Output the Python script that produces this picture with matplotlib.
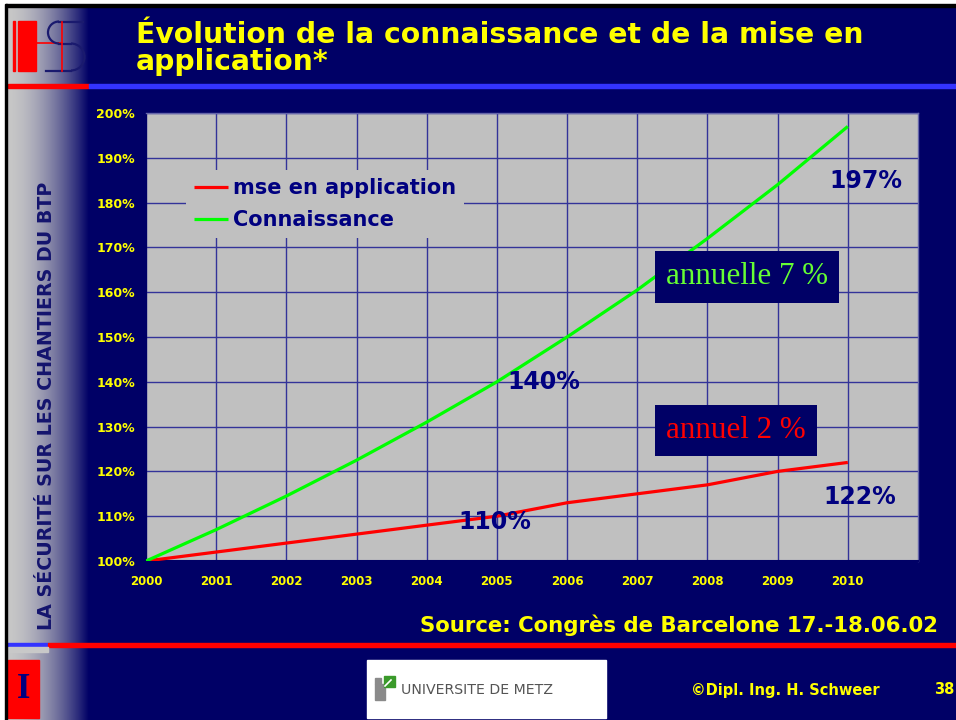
import numpy as np
import matplotlib
matplotlib.use("Agg")
import matplotlib.pyplot as plt
from matplotlib.patches import Rectangle, Arc

# ---- data ----
years = [2000, 2001, 2002, 2003, 2004, 2005, 2006, 2007, 2008, 2009, 2010]
connaissance = [100, 107, 114.5, 122.5, 131, 140, 150, 160.5, 172, 184, 197]
application = [100, 102, 104, 106, 108, 110, 113, 115, 117, 120, 122]
y_ticks = [100, 110, 120, 130, 140, 150, 160, 170, 180, 190, 200]
series_labels = ["mse en application", "Connaissance"]
title_lines = ["Évolution de la connaissance et de la mise en", "application*"]
side_title = "LA SÉCURITÉ SUR LES CHANTIERS DU BTP"
source_text = "Source: Congrès de Barcelone 17.-18.06.02"
footer_text = "©Dipl. Ing. H. Schweer"
page_number = "38"

NAVY = "#000066"
YELLOW = "#FFFF00"
DARK_TEXT = "#000080"
PLOT_GRAY = "#C0C0C0"

plt.rcParams["font.family"] = ["DejaVu Sans"]

W, H = 956, 720
fig = plt.figure(figsize=(W / 100, H / 100), dpi=100)

# ---- slide background (pixel coordinates, y downward) ----
bg = fig.add_axes([0, 0, 1, 1])
bg.set_xlim(0, W)
bg.set_ylim(H, 0)
bg.axis("off")
bg.add_patch(Rectangle((0, 0), W, H, color=NAVY, zorder=0))

# left gradient strip
t = np.linspace(0, 1, 200)
f = t ** 1.7
gray = np.array([0.78, 0.78, 0.78])
navy = np.array([0.0, 0.0, 0.4])
grad = (gray[None, :] * (1 - f[:, None]) + navy[None, :] * f[:, None])[None, :, :]
bg.imshow(grad, extent=(8, 89, H, 0), aspect="auto", zorder=1)

# outer frame
bg.add_patch(Rectangle((0, 0), W, 4, color="white", zorder=5))
bg.add_patch(Rectangle((0, 4), W, 2.5, color="black", zorder=5))
bg.add_patch(Rectangle((0, 0), 5, H, color="white", zorder=5))
bg.add_patch(Rectangle((5, 4), 2.5, H, color="black", zorder=5))

# rule under the title
bg.add_patch(Rectangle((8, 83.5), 81, 4, color="#FF0000", zorder=3))
bg.add_patch(Rectangle((89, 83.5), W - 89, 4, color="#3333FF", zorder=3))

# rule above the footer
bg.add_patch(Rectangle((5, 643), 43, 4, color="#3333FF", zorder=3))
bg.add_patch(Rectangle((48, 643), W - 48, 4, color="#FF0000", zorder=3))
bg.add_patch(Rectangle((8, 647), 40, 5, color="#C8C8C8", zorder=3))

# HS logo
bg.add_patch(Rectangle((13, 21), 2.5, 50, color="#FF0000", zorder=3))
bg.add_patch(Rectangle((18, 21), 18, 50, color="#FF0000", zorder=3))
bg.plot([36, 62], [43, 43], color="#FF0000", lw=1.2, zorder=3)
bg.plot([62, 62], [22, 71], color="#FF0000", lw=1.2, zorder=4)
s_col = "#1A1A6E"
bg.plot([59, 83], [21.5, 21.5], color=s_col, lw=1.6, zorder=3)
bg.add_patch(Arc((59, 32.5), 22, 22, theta1=90, theta2=270, color=s_col, lw=1.6, zorder=3))
bg.plot([59, 71], [43.5, 43.5], color=s_col, lw=1.6, zorder=3)
bg.add_patch(Arc((71, 57), 27, 27, theta1=-90, theta2=90, color=s_col, lw=1.6, zorder=3))
bg.plot([46, 71], [70.5, 70.5], color=s_col, lw=1.6, zorder=3)

# title
bg.text(136, 43, title_lines[0], color=YELLOW, fontsize=20.3, fontweight="bold",
        ha="left", va="baseline", zorder=6)
bg.text(136, 70, title_lines[1], color=YELLOW, fontsize=20.3, fontweight="bold",
        ha="left", va="baseline", zorder=6)

# vertical side title
bg.text(47, 406, side_title, color="#14146E", fontsize=13.7, fontweight="bold",
        rotation=90, ha="center", va="center", zorder=6)

# source line
bg.text(938, 625, source_text, color=YELLOW, fontsize=15.3, fontweight="bold",
        ha="right", va="center", zorder=6)

# footer: chapter box, university logo, credits
bg.add_patch(Rectangle((8, 660), 31, 58, color="#FF0000", zorder=3))
bg.text(24, 689, "I", color=DARK_TEXT, fontsize=25, fontweight="bold",
        family="Liberation Serif", ha="center", va="center", zorder=6)
bg.add_patch(Rectangle((367, 660), 239, 58, color="white", zorder=3))
bg.add_patch(Rectangle((375, 684), 10, 16, color="#8A8A8A", zorder=4))
bg.add_patch(Rectangle((375, 678), 6, 6, color="#8A8A8A", zorder=4))
bg.add_patch(Rectangle((384, 676), 11, 11, color="#3A9A2A", zorder=4))
bg.plot([385, 391], [686, 680], color="white", lw=1.2, zorder=5)
bg.text(401, 690, "UNIVERSITE DE METZ", color="#555555", fontsize=10.2,
        ha="left", va="center", zorder=6)
bg.text(785, 690, footer_text, color=YELLOW, fontsize=10.5, fontweight="bold",
        ha="center", va="center", zorder=6)
bg.text(934, 690, page_number, color=YELLOW, fontsize=10.5, fontweight="bold",
        ha="left", va="center", zorder=6)

# ---- chart ----
ax = fig.add_axes([146 / W, 1 - 561 / H, 772 / W, 448 / H])
ax.set_facecolor(PLOT_GRAY)
ax.plot(years, application, color="#FF0000", lw=2.3, label=series_labels[0],
        solid_capstyle="butt", zorder=3)
ax.plot(years, connaissance, color="#00FF00", lw=2.3, label=series_labels[1],
        solid_capstyle="butt", zorder=3)

ax.set_xlim(2000, 2011)
ax.set_ylim(100, 200)
ax.set_xticks(years)
ax.set_xticklabels([str(y) for y in years])
ax.set_yticks(y_ticks)
ax.set_yticklabels([f"{v}%" for v in y_ticks])
ax.grid(True, color="#333399", lw=1.0, zorder=1)
ax.set_axisbelow(True)
ax.tick_params(axis="x", length=0, pad=10, labelcolor=YELLOW, labelsize=8.5)
ax.tick_params(axis="y", length=0, pad=8, labelcolor=YELLOW, labelsize=9)
for lab in ax.get_xticklabels() + ax.get_yticklabels():
    lab.set_fontweight("bold")
for side in ["left", "bottom"]:
    ax.spines[side].set_color("#000066")
    ax.spines[side].set_linewidth(1.5)
for side in ["top", "right"]:
    ax.spines[side].set_color("#6666AA")
    ax.spines[side].set_linewidth(1.0)

# value labels
i05 = years.index(2005)
i10 = years.index(2010)
lab_kw = dict(color=DARK_TEXT, fontsize=17, fontweight="bold", ha="center",
              va="center", zorder=5)
ax.text(2005.67, connaissance[i05], f"{connaissance[i05]:.0f}%", **lab_kw)
ax.text(2004.97, 108.7, f"{application[i05]:.0f}%", **lab_kw)
ax.text(2010.17, 114.3, f"{application[i10]:.0f}%", **lab_kw)
ax.text(2010.26, 184.8, f"{connaissance[i10]:.0f}%", **lab_kw)

# growth-rate boxes
box_kw = dict(boxstyle="square,pad=0.36", facecolor=NAVY, edgecolor="none")
ax.text(2008.56, 163.4, "annuelle 7 %", color="#66FF33", fontsize=22.3,
        family="Liberation Serif", ha="center", va="center", bbox=box_kw, zorder=6)
ax.text(2008.41, 129.2, "annuel 2 %", color="#FF0000", fontsize=22.3,
        family="Liberation Serif", ha="center", va="center", bbox=box_kw, zorder=6)

leg = ax.legend(loc="upper left", bbox_to_anchor=(0.0385, 0.897), frameon=True,
                facecolor=PLOT_GRAY, edgecolor="none", framealpha=1, fancybox=False,
                prop=dict(size=15, weight="bold"), handlelength=1.6,
                handletextpad=0.25, labelspacing=0.58, borderpad=0.4)
for txt in leg.get_texts():
    txt.set_color(DARK_TEXT)
for line in leg.get_lines():
    line.set_linewidth(2.3)

fig.savefig("out.png", dpi=100, facecolor=NAVY)
